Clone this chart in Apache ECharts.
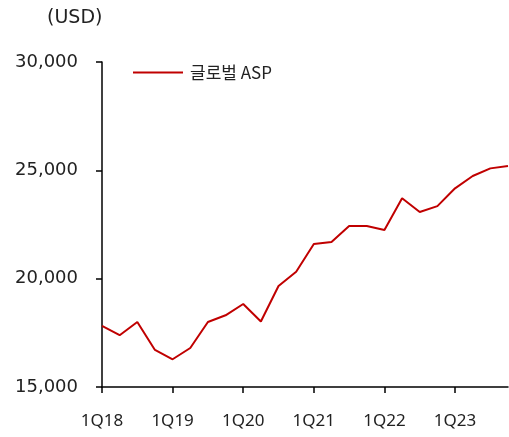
<!DOCTYPE html>
<html>
<head>
<meta charset="utf-8">
<script src="https://cdn.jsdelivr.net/npm/echarts@6/dist/echarts.min.js"></script>
<style>
  html, body { margin: 0; padding: 0; background: #fff; }
  #chart { width: 509px; height: 437px; }
</style>
</head>
<body>
<div id="chart"></div>
<script>
const quarters = [
  '1Q18', '2Q18', '3Q18', '4Q18',
  '1Q19', '2Q19', '3Q19', '4Q19',
  '1Q20', '2Q20', '3Q20', '4Q20',
  '1Q21', '2Q21', '3Q21', '4Q21',
  '1Q22', '2Q22', '3Q22', '4Q22',
  '1Q23', '2Q23', '3Q23', '4Q23'
]
const globalAsp = [
  17820, 17390, 18000, 16710,
  16280, 16800, 18000, 18310,
  18830, 18020, 19660, 20320,
  21600, 21690, 22430, 22430,
  22250, 23710, 23080, 23350,
  24170, 24740, 25090, 25200
]
const seriesName = '글로벌 ASP'
const unitLabel = '(USD)'

const wide = "'DejaVu Sans', 'Noto Sans CJK KR', sans-serif"
const font = "'Noto Sans', 'Noto Sans CJK KR', sans-serif"
const chart = echarts.init(document.getElementById('chart'))

chart.setOption({
  animation: false,
  grid: { left: 102, right: 1, top: 62, bottom: 50 },
  graphic: [{
    type: 'text', left: 47, top: 9,
    style: { text: unitLabel, fontSize: 19, fill: '#222', fontFamily: wide }
  }],
  legend: {
    left: 133, top: 64, padding: 0, itemWidth: 50, itemHeight: 2, itemGap: 10,
    icon: 'rect',
    textStyle: { color: '#222', fontSize: 17, fontFamily: "'Noto Sans CJK KR', sans-serif", padding: [0, 0, 0, 2] },
    data: [seriesName]
  },
  xAxis: {
    type: 'category', data: quarters, boundaryGap: false,
    axisLine: { lineStyle: { color: '#000', width: 1.5 } },
    axisTick: { interval: 3, length: 6, lineStyle: { color: '#000', width: 1.5 } },
    axisLabel: { interval: 3, color: '#222', fontSize: 17, margin: 26, fontFamily: font }
  },
  yAxis: {
    type: 'value', min: 15000, max: 30000, interval: 5000,
    axisLine: { show: true, lineStyle: { color: '#000', width: 1.5 } },
    axisTick: { show: true, length: 6, lineStyle: { color: '#000', width: 1.5 } },
    axisLabel: {
      color: '#222', fontSize: 18, margin: 24, fontFamily: wide,
      formatter: (v) => v.toLocaleString('en-US')
    },
    splitLine: { show: false }
  },
  series: [{
    name: seriesName, type: 'line', data: globalAsp, symbol: 'none',
    lineStyle: { color: '#c00000', width: 2 },
    itemStyle: { color: '#c00000' }
  }]
})
</script>
</body>
</html>
